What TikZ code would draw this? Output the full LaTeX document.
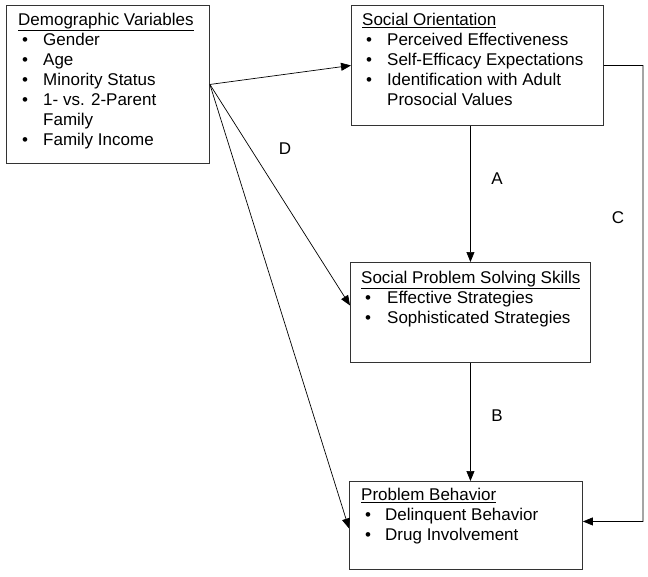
\documentclass[tikz,border=0pt]{standalone}
\usepackage{fontspec}
\setmainfont{Liberation Sans}
\usetikzlibrary{arrows.meta,calc}
\newcommand{\listdot}{\hspace*{4pt}\textbullet &}
\begin{document}
\begin{tikzpicture}[x=1pt,y=-1pt,
    varbox/.style={draw=black!80,line width=0.9pt,anchor=north west,inner sep=0pt},
    boxtext/.style={anchor=north west,inner sep=0pt,font=\fontsize{17}{20}\selectfont},
    letter/.style={font=\fontsize{17}{20}\selectfont},
    link/.style={-{Triangle[length=10pt,width=8pt]},line width=0.7pt}]
    \useasboundingbox (0,0) rectangle (648,576);
    %draw boxes
    \node[varbox,minimum width=203pt,minimum height=158pt] (demo) at (6,5) {};
    \node[varbox,minimum width=252pt,minimum height=120pt] (so) at (351,5) {};
    \node[varbox,minimum width=240pt,minimum height=100pt] (sps) at (350,262) {};
    \node[varbox,minimum width=233pt,minimum height=88pt] (pb) at (349,481) {};
    %draw box contents
    \node[boxtext] (demotext) at ($(demo.north west)+(12,6)$) {%
        \begin{tabular}{@{}p{25pt}@{}l@{}}
            \multicolumn{2}{@{}l@{}}{\underline{Demographic Variables}}\\
            \listdot Gender\\
            \listdot Age\\
            \listdot Minority Status\\
            \listdot 1- vs. 2-Parent\\
            & Family\\
            \listdot Family Income
        \end{tabular}};
    \node[boxtext] (sotext) at ($(so.north west)+(11,6)$) {%
        \begin{tabular}{@{}p{25pt}@{}l@{}}
            \multicolumn{2}{@{}l@{}}{\underline{Social Orientation}}\\
            \listdot Perceived Effectiveness\\
            \listdot Self-Efficacy Expectations\\
            \listdot Identification with Adult\\
            & Prosocial Values
        \end{tabular}};
    \node[boxtext] (spstext) at ($(sps.north west)+(11,7)$) {%
        \begin{tabular}{@{}p{26pt}@{}l@{}}
            \multicolumn{2}{@{}l@{}}{\underline{Social Problem Solving Skills}}\\
            \listdot Effective Strategies\\
            \listdot Sophisticated Strategies
        \end{tabular}};
    \node[boxtext] (pbtext) at ($(pb.north west)+(12,5)$) {%
        \begin{tabular}{@{}p{24pt}@{}l@{}}
            \multicolumn{2}{@{}l@{}}{\underline{Problem Behavior}}\\
            \listdot Delinquent Behavior\\
            \listdot Drug Involvement
        \end{tabular}};
    %draw paths
    \draw[link] (demo.east) -- (so.west);
    \draw[link] (demo.east) -- ([yshift=7pt]sps.west);
    \draw[link] (demo.east) -- ([yshift=-3pt]pb.west);
    \draw[link] (so.south -| sps.north) -- (sps.north);
    \draw[link] (sps.south) -- (sps.south |- pb.north);
    \coordinate (cright) at (643,65.5);
    \draw[link] (so.east) -- (cright) |- ([yshift=4pt]pb.east);
    %path labels
    \node[letter] (labA) at (497,179) {A};
    \node[letter] (labB) at (497,416) {B};
    \node[letter] (labC) at (618,218) {C};
    \node[letter] (labD) at (285,149) {D};
\end{tikzpicture}
\end{document}
